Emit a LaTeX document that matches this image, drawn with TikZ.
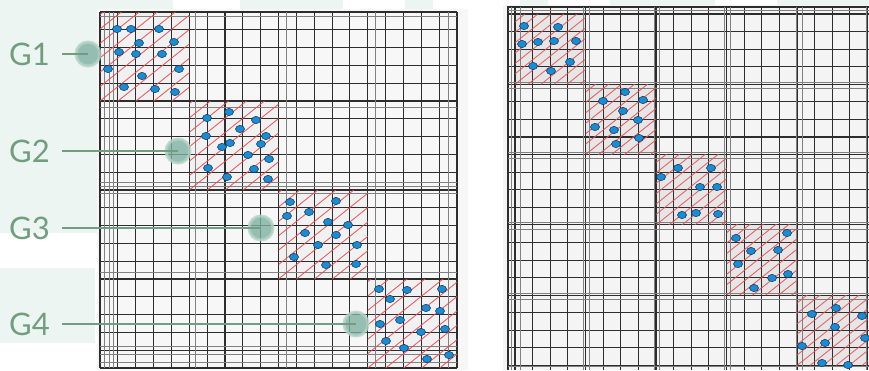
\documentclass[tikz,border=0pt]{standalone}
\usepackage{fontspec}
\setmainfont{Lato}
\definecolor{mint}{RGB}{236,245,242}
\definecolor{paperc}{RGB}{247,247,247}
\definecolor{paperr}{RGB}{244,244,244}
\definecolor{gridc}{RGB}{45,45,45}
\definecolor{hatchc}{RGB}{235,75,80}
\definecolor{dotc}{RGB}{24,140,212}
\definecolor{dotedge}{RGB}{15,50,80}
\definecolor{lblc}{RGB}{112,158,126}
\definecolor{ringc}{RGB}{178,211,196}
\definecolor{discc}{RGB}{128,176,163}
\definecolor{blockl}{RGB}{241,241,241}
\definecolor{blockr}{RGB}{230,230,230}
\tikzset{
 gridmain/.style={draw=gridc, line width=1.1pt},
 gridx/.style={draw=gridc!60, line width=0.7pt},
 hatchl/.style={draw=hatchc, line width=0.9pt, opacity=0.85},
 dotm/.style={fill=dotc, draw=dotedge, line width=0.5pt},
 lbl/.style={text=lblc, font=\fontsize{31}{31}\selectfont, inner sep=0pt},
 conn/.style={draw=lblc, line width=2pt},
 marker/.style={circle, minimum size=24pt, inner sep=0pt, fill=discc, draw=ringc, line width=3pt, opacity=0.8},
}
\begin{document}
\begin{tikzpicture}[x=1pt,y=-1pt]
\useasboundingbox (0,0) rectangle (869,370);
% backgrounds
\fill[white] (0,0) rectangle (869,370);
\fill[mint] (0,0) rectangle (97,233);
\fill[mint] (0,268) rectangle (95,343);
\fill[mint] (82,0) rectangle (173,10);
\fill[mint] (240,0) rectangle (343,10);
\fill[mint] (405,0) rectangle (433,10);
\fill[mint] (520,0) rectangle (548,5);
\fill[mint] (610,0) rectangle (715,5);
\fill[mint] (777,0) rectangle (869,5);
\fill[paperc] (97,9) rectangle (468,370);
\fill[paperr] (503,5) rectangle (869,370);
% block fills
\foreach \k in {0,...,3} {
  \pgfmathsetmacro\bx{100+89.25*\k}
  \pgfmathsetmacro\by{12+89*\k}
  \fill[blockl] (\bx,\by) rectangle ++(89.25,89);
}
\foreach \k in {0,...,4} {
  \pgfmathsetmacro\bx{515+70.5*\k}
  \pgfmathsetmacro\by{14+70.3*\k}
  \fill[blockr] (\bx,\by) rectangle ++(70.5,70.3);
}
% left grid
\foreach \i in {0,...,20} {
  \pgfmathsetmacro\gx{100+17.85*\i}
  \pgfmathsetmacro\gy{12+17.8*\i}
  \draw[gridmain] (\gx,12) -- (\gx,368);
  \draw[gridmain] (100,\gy) -- (457,\gy);
}
\foreach \gx in {104,109,113.5,195,286.5,375,448} \draw[gridx] (\gx,12) -- (\gx,368);
\foreach \gy in {16,107,182,186.5,193.5,272,346.5,354,362} \draw[gridx] (100,\gy) -- (457,\gy);
% right grid
\foreach \i in {0,...,20} {
  \pgfmathsetmacro\gx{515+17.625*\i}
  \pgfmathsetmacro\gy{14+17.575*\i}
  \draw[gridmain] (\gx,7) -- (\gx,370);
  \draw[gridmain] (508,\gy) -- (869,\gy);
}
\draw[gridmain] (508,370) -- (508,7) -- (869,7);
\foreach \gx in {511,520,583,589,654,659,724,730,796,802,866} \draw[gridx] (\gx,7) -- (\gx,370);
\foreach \gy in {10.5,82,88,152,158,222,229,293,299,366} \draw[gridx] (508,\gy) -- (869,\gy);
% hatching
\foreach \k in {0,...,3} {
  \pgfmathsetmacro\bx{100+89.25*\k}
  \pgfmathsetmacro\by{12+89*\k}
  \begin{scope}
    \clip (\bx,\by) rectangle ++(89.25,89);
    \foreach \d in {-126,-108,...,90} \draw[hatchl] ({\bx+\d},{\by+89}) -- ++(160,-128);
  \end{scope}
}
\foreach \k in {0,...,4} {
  \pgfmathsetmacro\bx{515+70.5*\k}
  \pgfmathsetmacro\by{14+70.3*\k}
  \begin{scope}
    \clip (\bx,\by) rectangle ++(70.5,70.3);
    \foreach \d in {-104,-91,...,72} \draw[hatchl] ({\bx+\d},{\by+70.3}) -- ++(130,-104);
  \end{scope}
}
% dots
\foreach \p in {
  (117,29),(131,29),(159,29),(139,43),(174,42),(119,52),(136,54),(162,54),(108,69),(179,69),(142,76),(124,87),(155,89),(175,92),
  (207,118),(229,112),(256,120),(240,129),(206,136),(266,136),(222,147),(230,143),(261,144),(248,155),(269,159),(208,168),(254,169),(227,177),(268,179),
  (290,202),(336,201),(287,216),(309,212),(328,222),(348,225),(305,233),(336,235),(318,245),(357,245),(294,257),(326,265),(356,264),
  (379,289),(407,290),(442,289),(390,299),(426,308),(440,311),(380,324),(400,320),(421,332),(445,329),(386,341),(404,348),(427,359),(449,355),
  (524,26),(558,27),(522,44),(538,42),(554,41),(576,41),(533,66),(551,71),(570,62),
  (603,101),(625,92),(643,100),(623,111),(638,120),(595,127),(614,130),(639,138),(616,144),
  (678,168),(711,168),(661,177),(700,187),(717,187),(682,215),(696,213),(718,214),
  (736,238),(787,233),(751,251),(778,250),(738,264),(772,278),(788,274),(754,288),
  (812,314),(836,308),(862,316),(835,327),(865,338),(802,346),(825,343),(822,363),(848,365)}
  \filldraw[dotm] \p ellipse (4.5 and 3.6);
% labels, markers, connectors
\node[lbl, anchor=base west] (g1) at (9,65) {G1};
\node[lbl, anchor=base west] (g2) at (9,162) {G2};
\node[lbl, anchor=base west] (g3) at (9,239) {G3};
\node[lbl, anchor=base west] (g4) at (9,335) {G4};
\node[marker] (c1) at (88,54) {};
\node[marker] (c2) at (178,151) {};
\node[marker] (c3) at (261,228) {};
\node[marker] (c4) at (356,324) {};
\coordinate (s1) at (62,54);
\coordinate (s2) at (62,151);
\coordinate (s3) at (62,228);
\coordinate (s4) at (62,324);
\draw[conn] (s1) -- (c1.center);
\draw[conn] (s2) -- (c2.center);
\draw[conn] (s3) -- (c3.center);
\draw[conn] (s4) -- (c4.center);
\end{tikzpicture}
\end{document}
